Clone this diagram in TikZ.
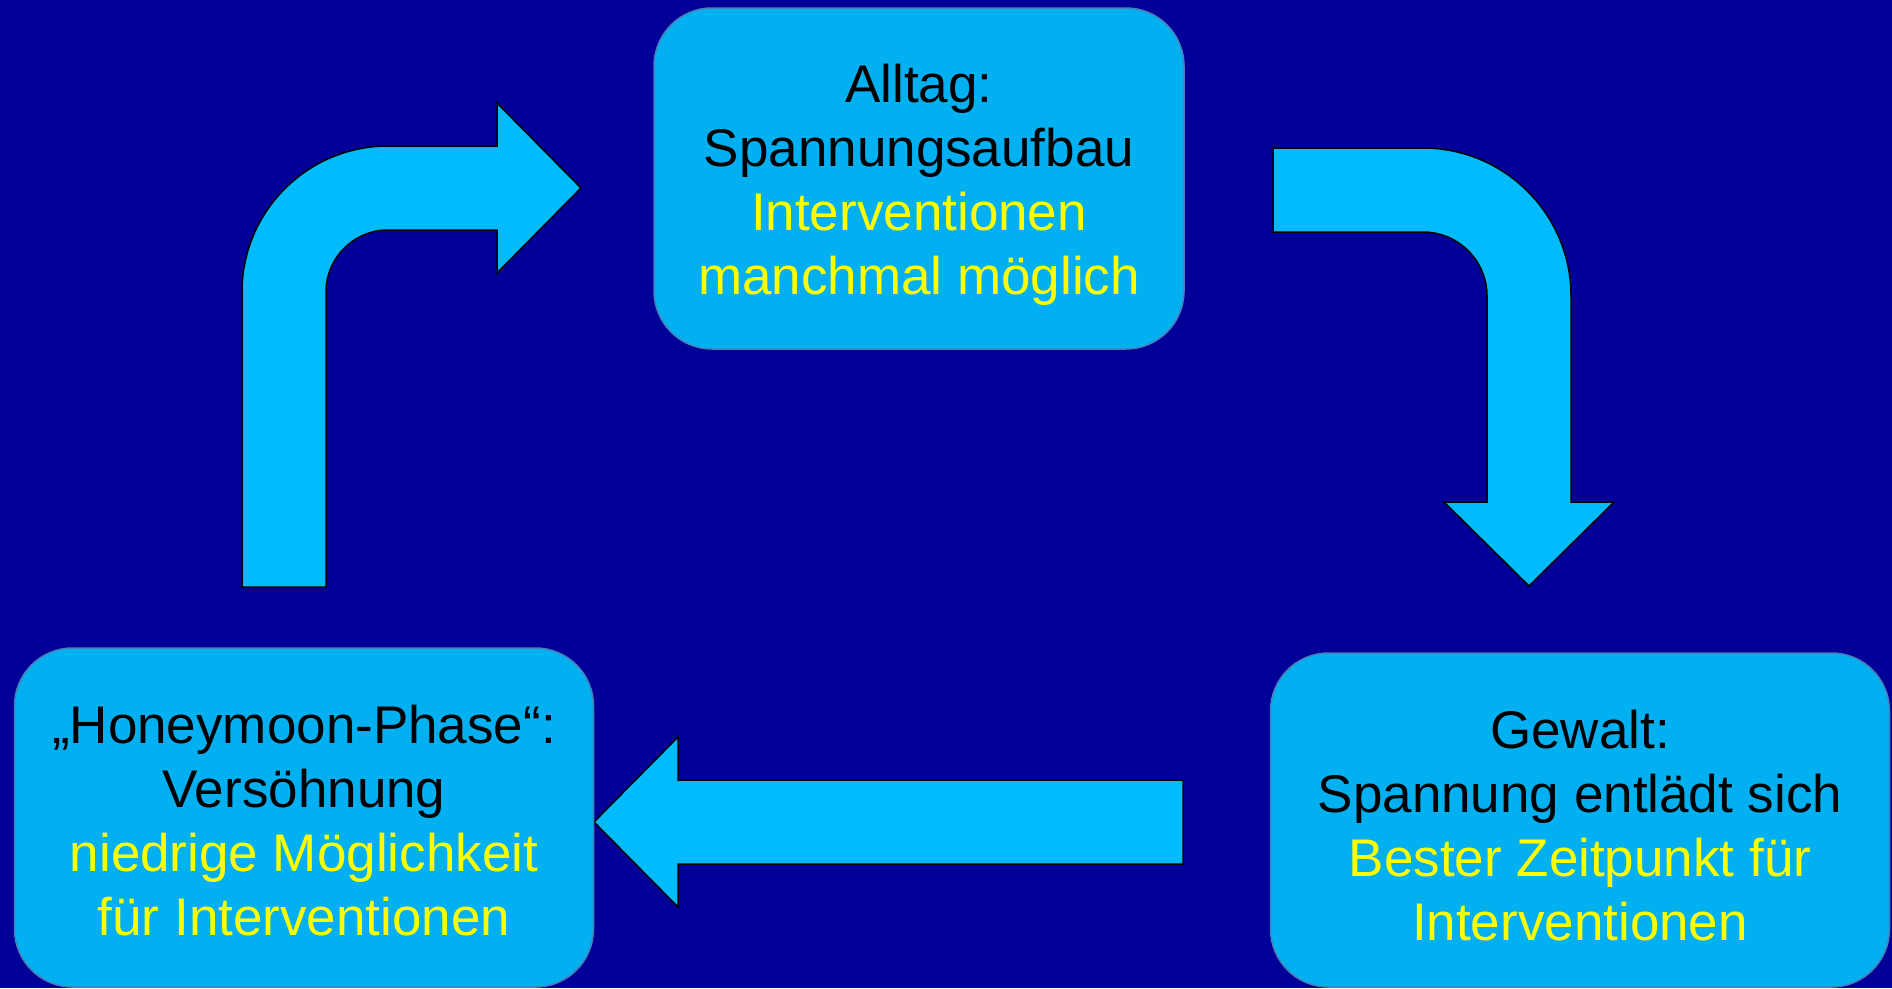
\documentclass[tikz,border=0pt]{standalone}
\usepackage{fontspec}
\setmainfont{Liberation Sans}
\definecolor{bgblue}{RGB}{0,0,153}
\definecolor{boxfill}{RGB}{0,176,240}
\definecolor{boxline}{RGB}{74,126,187}
\definecolor{arrowfill}{RGB}{0,187,255}
\definecolor{txtyellow}{RGB}{255,255,0}
\tikzset{
  phasebox/.style={draw=boxline, line width=1.5pt, fill=boxfill, rounded corners=58pt,
    inner sep=0pt, align=center, text=black,
    font=\fontsize{53}{64}\selectfont},
  blockarrow/.style={draw=black, line width=1.5pt, fill=arrowfill, line join=miter}
}
\newcommand{\hl}[1]{\textcolor{txtyellow}{#1}}
\newcommand{\topstrut}[1]{\rule{0pt}{#1}}
\begin{document}
\begin{tikzpicture}[x=1pt,y=-1pt]
\useasboundingbox (0,0) rectangle (1892,988);
\fill[bgblue] (0,0) rectangle (1892,988);

% block arrows
\draw[blockarrow] (242,587) -- (242,292)
  .. controls (242,211.4) and (307.4,146) .. (388,146)
  -- (497,146) -- (497,103) -- (581,188) -- (497,273) -- (497,230) -- (388,230)
  .. controls (353.8,230) and (326,257.8) .. (326,292)
  -- (326,587) -- cycle;

\draw[blockarrow] (1273,148) -- (1423,148)
  .. controls (1504.7,148) and (1571,214.3) .. (1571,296)
  -- (1571,502) -- (1614,502) -- (1529,586) -- (1444,502) -- (1487,502) -- (1487,296)
  .. controls (1487,260.7) and (1458.3,232) .. (1423,232)
  -- (1273,232) -- cycle;

\draw[blockarrow] (1183,780) -- (678,780) -- (678,737) -- (594,822) -- (678,907)
  -- (678,864) -- (1183,864) -- cycle;

% phase boxes
\node[phasebox, minimum width=530pt, minimum height=341pt] (alltag) at (919,178.5)
  {\topstrut{51pt}Alltag:\\Spannungsaufbau\\\hl{Interventionen}\\\hl{manchmal möglich}};
\node[phasebox, minimum width=579pt, minimum height=339pt] (honey) at (304,817.5)
  {\topstrut{45pt}„Honeymoon-Phase“:\\Versöhnung\\\hl{niedrige Möglichkeit}\\\hl{für Interventionen}};
\node[phasebox, minimum width=619pt, minimum height=334pt] (gewalt) at (1580,820)
  {\topstrut{49pt}Gewalt:\\Spannung entlädt sich\\\hl{Bester Zeitpunkt für}\\\hl{Interventionen}};
\end{tikzpicture}
\end{document}
